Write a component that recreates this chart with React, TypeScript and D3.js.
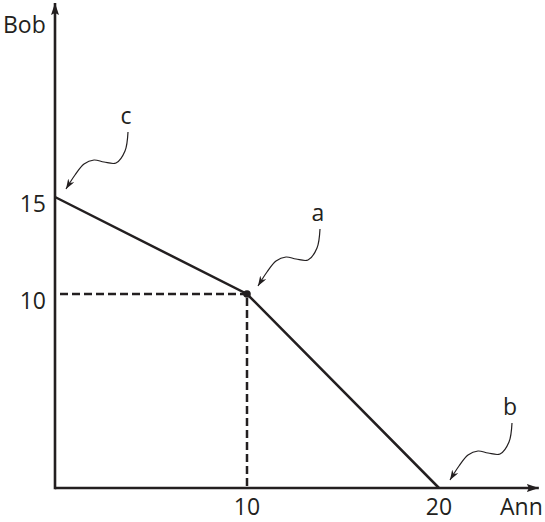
import React from "react";
import * as d3 from "d3";

// Data
const frontierAnn = [0, 10, 20];
const frontierBob = [15, 10, 0];
const xTicks = [10, 20];
const yTicks = [10, 15];
const pointLabels = ["c", "a", "b"];
const pointAnn = [0, 10, 20];
const pointBob = [15, 10, 0];
const xAxisLabel = "Ann";
const yAxisLabel = "Bob";

// squiggle shape relative to arrow tip
const squiggle: [number, number][] = [
  [62, -57],
  [59, -38],
  [50, -26],
  [38, -27],
  [28, -29],
  [18, -25],
  [9, -14],
  [0, 0],
];

const W = 545;
const H = 522;
const ink = "#231f20";
const font = "'Open Sans', sans-serif";
const fs = 23;

export default function App() {
  const x = d3.scaleLinear().domain([0, 20]).range([55, 439]);
  const y = d3.scaleLinear().domain([0, 15]).range([488, 197]);
  const xEnd = x(25.2);
  const yEnd = y(25);

  const line = d3
    .line<number>()
    .x((_, i) => x(frontierAnn[i]))
    .y((_, i) => y(frontierBob[i]));

  const sq = d3
    .line<[number, number]>()
    .x((d) => d[0])
    .y((d) => d[1])
    .curve(d3.curveCatmullRom.alpha(0.5));

  return (
    <svg
      width={W}
      height={H}
      style={{ position: "absolute", left: 0, top: 0, display: "block" }}
      fontFamily={font}
    >
      <defs>
        <marker
          id="axArrow"
          viewBox="0 0 12 8"
          refX="12"
          refY="4"
          markerWidth="12"
          markerHeight="8"
          markerUnits="userSpaceOnUse"
          orient="auto"
        >
          <path d="M0,0 L12,4 L0,8 L2,4 Z" fill={ink} />
        </marker>
        <marker
          id="smArrow"
          viewBox="0 0 10 7"
          refX="10"
          refY="3.5"
          markerWidth="10"
          markerHeight="7"
          markerUnits="userSpaceOnUse"
          orient="auto"
        >
          <path d="M0,0 L10,3.5 L0,7 L3,3.5 Z" fill={ink} />
        </marker>
      </defs>

      {/* dashed guide lines */}
      <line
        x1={x(0) + 5}
        x2={x(10)}
        y1={y(10)}
        y2={y(10)}
        stroke={ink}
        strokeWidth={2.5}
        strokeDasharray="8,4"
      />
      <line
        x1={x(10)}
        x2={x(10)}
        y1={y(10) + 4}
        y2={y(0)}
        stroke={ink}
        strokeWidth={2.5}
        strokeDasharray="8,4"
      />

      {/* axes */}
      <line
        x1={x(0)}
        x2={xEnd}
        y1={y(0)}
        y2={y(0)}
        stroke={ink}
        strokeWidth={2.6}
        markerEnd="url(#axArrow)"
      />
      <line
        x1={x(0)}
        x2={x(0)}
        y1={y(0) + 1.3}
        y2={yEnd}
        stroke={ink}
        strokeWidth={2.6}
        markerEnd="url(#axArrow)"
      />

      {/* frontier */}
      <path
        d={line(frontierAnn) || ""}
        fill="none"
        stroke={ink}
        strokeWidth={2.5}
      />
      <circle cx={x(10)} cy={y(10)} r={3.8} fill={ink} />

      {/* tick labels */}
      {xTicks.map((t) => (
        <text
          key={"x" + t}
          x={x(t)}
          y={515}
          textAnchor="middle"
          fontSize={fs}
          fill={ink}
        >
          {t}
        </text>
      ))}
      {yTicks.map((t) => (
        <text
          key={"y" + t}
          x={46}
          y={y(t) + 15}
          textAnchor="end"
          fontSize={fs}
          fill={ink}
        >
          {t}
        </text>
      ))}

      {/* axis labels */}
      <text x={500} y={515} fontSize={fs} fill={ink}>
        {xAxisLabel}
      </text>
      <text x={3} y={33} fontSize={fs} fill={ink}>
        {yAxisLabel}
      </text>

      {/* annotations */}
      {pointLabels.map((lab, i) => {
        const tx = x(pointAnn[i]) + 11;
        const ty = y(pointBob[i]) - 8;
        const pts = squiggle.map(
          ([dx, dy]) => [tx + dx, ty + dy] as [number, number]
        );
        return (
          <g key={lab}>
            <path
              d={sq(pts) || ""}
              fill="none"
              stroke={ink}
              strokeWidth={1.2}
              markerEnd="url(#smArrow)"
            />
            <text
              x={tx + 60}
              y={ty - 65}
              textAnchor="middle"
              fontSize={fs}
              fill={ink}
            >
              {lab}
            </text>
          </g>
        );
      })}
    </svg>
  );
}
